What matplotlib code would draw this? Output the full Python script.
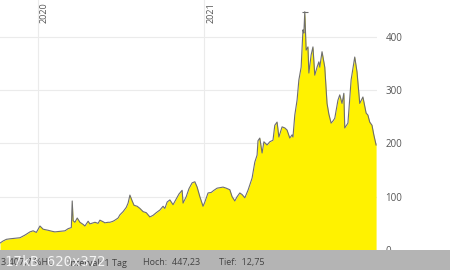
import pandas as pd
import matplotlib.pyplot as plt
import matplotlib.transforms as mtransforms
from matplotlib.patches import Rectangle

plt.rcParams['font.family'] = ['Open Sans', 'DejaVu Sans']

dates = [
    '2019-10-09', '2019-10-16', '2019-10-23', '2019-10-31', '2019-11-11', '2019-11-22',
    '2019-12-03', '2019-12-14', '2019-12-21', '2019-12-28', '2020-01-05', '2020-01-12',
    '2020-01-23', '2020-02-01', '2020-02-07', '2020-02-18', '2020-02-29', '2020-03-07',
    '2020-03-14', '2020-03-16', '2020-03-18', '2020-03-22', '2020-03-27', '2020-04-02',
    '2020-04-09', '2020-04-13', '2020-04-20', '2020-04-24', '2020-05-01', '2020-05-05',
    '2020-05-12', '2020-05-16', '2020-05-23', '2020-05-27', '2020-06-03', '2020-06-07',
    '2020-06-14', '2020-06-18', '2020-06-25', '2020-06-29', '2020-07-06', '2020-07-13',
    '2020-07-17', '2020-07-21', '2020-07-26', '2020-07-30', '2020-08-06', '2020-08-12',
    '2020-08-19', '2020-08-26', '2020-09-03', '2020-09-10', '2020-09-17', '2020-09-25',
    '2020-10-02', '2020-10-06', '2020-10-11', '2020-10-17', '2020-10-24', '2020-10-31',
    '2020-11-06', '2020-11-13', '2020-11-15', '2020-11-22', '2020-11-28', '2020-12-05',
    '2020-12-11', '2020-12-16', '2020-12-22', '2020-12-29', '2021-01-02', '2021-01-09',
    '2021-01-16', '2021-01-22', '2021-01-29', '2021-02-04', '2021-02-11', '2021-02-18',
    '2021-02-26', '2021-03-03', '2021-03-09', '2021-03-14', '2021-03-20', '2021-03-25',
    '2021-03-31', '2021-04-07', '2021-04-11', '2021-04-16', '2021-04-22', '2021-04-27',
    '2021-04-29', '2021-05-03', '2021-05-08', '2021-05-12', '2021-05-19', '2021-05-25',
    '2021-06-01', '2021-06-05', '2021-06-10', '2021-06-14', '2021-06-21', '2021-06-27',
    '2021-07-02', '2021-07-08', '2021-07-13', '2021-07-15', '2021-07-19', '2021-07-24',
    '2021-07-28', '2021-08-02', '2021-08-06', '2021-08-08', '2021-08-10', '2021-08-13',
    '2021-08-17', '2021-08-19', '2021-08-24', '2021-08-28', '2021-09-01', '2021-09-06',
    '2021-09-10', '2021-09-12', '2021-09-17', '2021-09-23', '2021-09-28', '2021-10-02',
    '2021-10-07', '2021-10-11', '2021-10-15', '2021-10-22', '2021-10-26', '2021-10-31',
    '2021-11-04', '2021-11-06', '2021-11-13', '2021-11-20', '2021-11-24', '2021-11-28',
    '2021-12-03', '2021-12-09', '2021-12-16', '2021-12-23', '2021-12-27', '2021-12-31',
    '2022-01-05', '2022-01-09', '2022-01-14',
]
prices = [
    13, 17, 20, 21, 22, 23,
    28, 34, 36, 33, 45, 39,
    37, 35, 34, 35, 36, 40,
    42, 92, 55, 52, 60, 52,
    48, 45, 54, 49, 51, 52,
    50, 56, 53, 51, 52, 52,
    54, 56, 60, 66, 72, 80,
    88, 103, 92, 84, 82, 78,
    72, 70, 62, 65, 70, 75,
    82, 78, 90, 94, 85, 96,
    105, 112, 88, 100, 115, 126,
    128, 118, 100, 82, 90, 107,
    108, 112, 116, 117, 118, 116,
    113, 100, 92, 100, 107, 104,
    98, 112, 122, 135, 165, 178,
    205, 210, 182, 203, 197, 203,
    206, 234, 240, 212, 231, 229,
    225, 210, 216, 212, 253, 281,
    319, 343, 413, 407, 447, 375,
    381, 332, 366, 381, 328, 343,
    353, 343, 372, 343, 275, 255,
    238, 242, 247, 281, 291, 275,
    294, 229, 238, 319, 340, 362,
    334, 275, 287, 257, 253, 240,
    234, 216, 197,
]
year_ticks = ['2020-01-01', '2021-01-01']
year_labels = ['2020', '2021']
y_ticks = [0, 100, 200, 300, 400]
footer_texts = ['3.407,7 %HL', 'Interval: 1 Tag', 'Hoch:  447,23', 'Tief:  12,75']

df = pd.DataFrame({'Date': pd.to_datetime(dates), 'Price': prices})

fig = plt.figure(figsize=(4.5, 2.7), dpi=100)
ax = fig.add_axes([0, 20 / 270, 377 / 450, 250 / 270])

ax.fill_between(df['Date'], df['Price'], 0, color='#fff200', linewidth=0, zorder=2)
ax.plot(df['Date'], df['Price'], color='#6e6e6e', linewidth=0.8, zorder=3)
# small tick marking the high
top = df['Price'].idxmax()
ax.plot(df['Date'][top], df['Price'][top], marker='_', markersize=5,
        color='#6e6e6e', markeredgewidth=0.8, zorder=3)

ax.set_xlim(pd.Timestamp('2019-10-09'), pd.Timestamp('2022-01-16'))
ax.set_ylim(0, 469)

for s in ax.spines.values():
    s.set_visible(False)

ax.yaxis.tick_right()
ax.set_yticks(y_ticks)
ax.tick_params(axis='y', length=0, pad=6, labelsize=7, labelcolor='#555555')
ax.set_xticks(pd.to_datetime(year_ticks))
ax.set_xticklabels([])
ax.tick_params(axis='x', length=0)
ax.grid(True, color='#ebebeb', linewidth=0.8, zorder=0)
ax.set_axisbelow(True)

trans = mtransforms.blended_transform_factory(ax.transData, ax.transAxes)
for d, lab in zip(pd.to_datetime(year_ticks), year_labels):
    ax.text(d + pd.Timedelta(days=4), 0.992, lab, transform=trans, rotation=90,
            ha='left', va='top', fontsize=6.5, color='#555555')

# grey status bar at the bottom
fig.patches.append(Rectangle((0, 0), 1, 20 / 270, transform=fig.transFigure,
                             facecolor='#b4b4b4', edgecolor='none', zorder=5))
for x, t in zip([1, 68, 143, 219], footer_texts):
    fig.text(x / 450, 7 / 270, t, ha='left', va='center', fontsize=6.5,
             color='#444444', zorder=6)
fig.text(5 / 450, 8 / 270, '17kB 620x372', family='DejaVu Sans Mono', fontsize=10,
         color='white', alpha=0.85, ha='left', va='center', zorder=7)

fig.savefig('out.png', dpi=100)
